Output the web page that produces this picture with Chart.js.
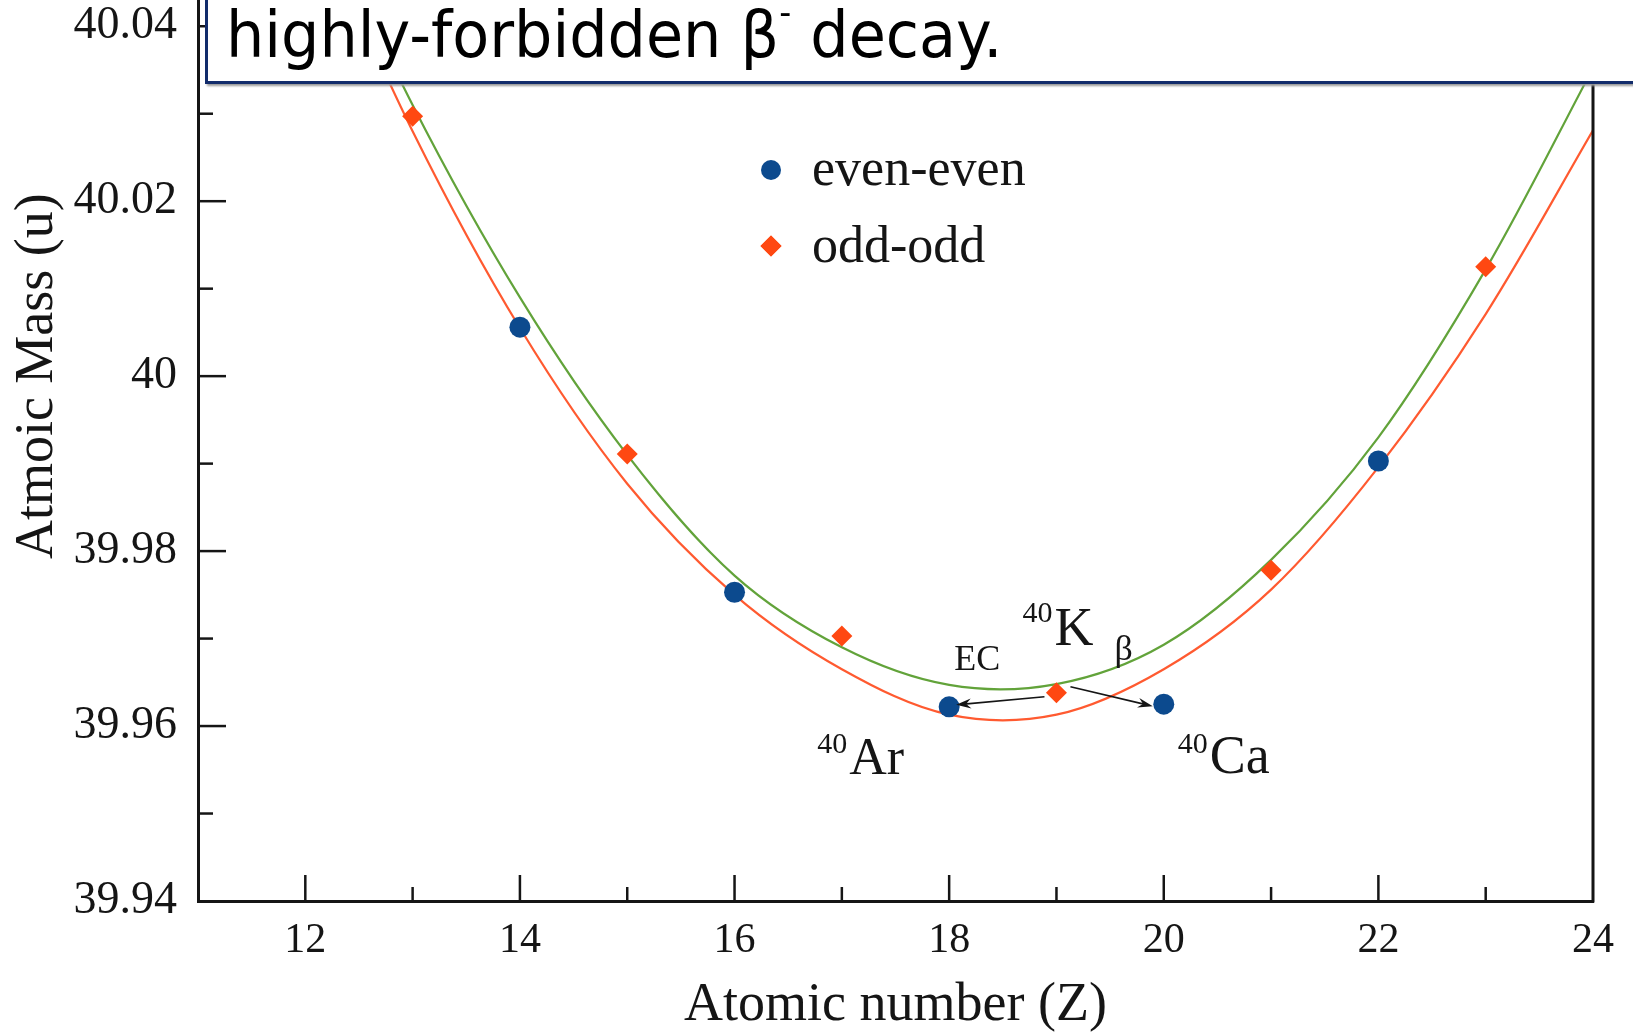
<!DOCTYPE html>
<html>
<head>
<meta charset="utf-8">
<script src="https://cdn.jsdelivr.net/npm/chart.js@4.4.1/dist/chart.umd.min.js"></script>
<style>
  body { margin: 0; background: #fff; }
  #wrap { position: relative; width: 1633px; height: 1033px; overflow: hidden; }
  #box { position: absolute; left: 205px; top: -10px; width: 1500px; height: 88px; background: #fff;
         border: 3px solid #122c6b; box-shadow: 2px 2px 2px #9a9a9a; }
  #note { position: absolute; left: 226px; top: 3px; font: 64px/64px "DejaVu Sans"; white-space: nowrap;
          transform-origin: 0 0; color: #000; }
  #note sup { font-size: 0.55em; position: relative; top: -0.95em; vertical-align: baseline; line-height: 0; }
</style>
</head>
<body>
<div id="wrap">
  <canvas id="chart-massa"></canvas>
  <div id="box"></div>
  <div id="note">highly-forbidden β<sup>-</sup> decay.</div>
</div>
<script>
// A = 40 isobars
const evenZ = [14, 16, 18, 20, 22];
const evenMass = [40.0056, 39.9753, 39.9622, 39.9625, 39.9903];
const oddZ = [13, 15, 17, 19, 21, 23];
const oddMass = [40.0297, 39.9911, 39.9703, 39.9638, 39.9778, 40.0125];

// the two mass parabolas (Z = 12 is under the text box)
const fitZ = [12, 13, 14, 15, 16, 17, 18, 19, 20, 21, 22, 23, 24];
const oddFit = [40.057, 40.031, 40.009, 39.991, 39.9772, 39.969, 39.9647, 39.9648, 39.9693, 39.979, 39.993, 40.0122, 40.0352];
const evenFit = [40.055, 40.028, 40.0055, 39.9877, 39.975, 39.9665, 39.9613, 39.9613, 39.9665, 39.9756, 39.9896, 40.0071, 40.0281];

const xTicks = [11, 12, 13, 14, 15, 16, 17, 18, 19, 20, 21, 22, 23, 24];
const yTicks = [39.94, 39.95, 39.96, 39.97, 39.98, 39.99, 40.00, 40.01, 40.02, 40.03, 40.04];

const pts = (xs, ys) => xs.map((v, i) => ({ x: v, y: ys[i] }));

const BLUE = '#0c4a8e';
const ORANGE = '#ff4812';
const INK = '#151515';
const SERIF = '"Liberation Serif", "Times New Roman", serif';

function arrow(ctx, x1, y1, x2, y2) {
    const ang = Math.atan2(y2 - y1, x2 - x1);
    ctx.beginPath();
    ctx.moveTo(x1, y1);
    ctx.lineTo(x2 - 8 * Math.cos(ang), y2 - 8 * Math.sin(ang));
    ctx.stroke();
    ctx.save();
    ctx.translate(x2, y2);
    ctx.rotate(ang);
    ctx.beginPath();
    ctx.moveTo(0, 0);
    ctx.lineTo(-15, -5);
    ctx.lineTo(-10, 0);
    ctx.lineTo(-15, 5);
    ctx.closePath();
    ctx.fill();
    ctx.restore();
}

function iso(ctx, sup, main, px, py, size, supSize, rise) {
    ctx.font = supSize + 'px ' + SERIF;
    ctx.fillText(sup, px, py - rise);
    const w = ctx.measureText(sup).width;
    ctx.font = size + 'px ' + SERIF;
    ctx.fillText(main, px + w + 2, py);
}

const decor = {
    id: 'decor',
    afterDraw(chart) {
        const { ctx, chartArea: a, scales: { x, y } } = chart;
        ctx.save();
        ctx.strokeStyle = INK;
        ctx.fillStyle = INK;

        // right frame
        ctx.lineWidth = 3;
        ctx.beginPath();
        ctx.moveTo(a.right, a.top);
        ctx.lineTo(a.right, a.bottom + 1.5);
        ctx.stroke();

        // inward tick marks
        ctx.lineWidth = 2.5;
        xTicks.forEach(v => {
            if (v <= 11 || v >= 24) return;
            const px = x.getPixelForValue(v);
            const len = v % 2 === 0 ? 26 : 14;
            ctx.beginPath();
            ctx.moveTo(px, a.bottom);
            ctx.lineTo(px, a.bottom - len);
            ctx.stroke();
        });
        yTicks.forEach((v, i) => {
            if (i === 0) return;
            const py = y.getPixelForValue(v);
            const len = i % 2 === 0 ? 28 : 15;
            ctx.beginPath();
            ctx.moveTo(a.left, py);
            ctx.lineTo(a.left + len, py);
            ctx.stroke();
        });

        // y axis title, centred on 40 u
        ctx.save();
        ctx.translate(38, y.getPixelForValue(40));
        ctx.rotate(-Math.PI / 2);
        ctx.font = '54px ' + SERIF;
        ctx.textAlign = 'center';
        ctx.textBaseline = 'middle';
        ctx.fillText('Atmoic Mass (u)', 0, 0);
        ctx.restore();

        // legend
        ctx.fillStyle = BLUE;
        ctx.beginPath();
        ctx.arc(771, 170, 10, 0, Math.PI * 2);
        ctx.fill();
        ctx.fillStyle = ORANGE;
        Chart.helpers.drawPoint(ctx, { pointStyle: 'rectRot', radius: 10.5, borderWidth: 0 }, 771, 246);
        ctx.fill();
        ctx.fillStyle = INK;
        ctx.font = '52px ' + SERIF;
        ctx.textAlign = 'left';
        ctx.textBaseline = 'alphabetic';
        ctx.fillText('even-even', 812, 185);
        ctx.fillText('odd-odd', 812, 262);

        // decay annotations, placed around the three isobars
        const ar = { x: x.getPixelForValue(18), y: y.getPixelForValue(evenMass[2]) };
        const k = { x: x.getPixelForValue(19), y: y.getPixelForValue(oddMass[3]) };
        const ca = { x: x.getPixelForValue(20), y: y.getPixelForValue(evenMass[3]) };

        ctx.lineWidth = 1.6;
        arrow(ctx, k.x - 12, k.y + 4, ar.x + 7, ar.y - 2);
        arrow(ctx, k.x + 14, k.y - 6, ca.x - 11, ca.y + 2);

        iso(ctx, '40', 'Ar', ar.x - 132, ar.y + 67, 52, 30, 21);
        iso(ctx, '40', 'K', k.x - 34, k.y - 48, 54, 30, 23);
        iso(ctx, '40', 'Ca', ca.x + 14, ca.y + 69, 54, 30, 20);
        ctx.font = '36px ' + SERIF;
        ctx.fillText('EC', ar.x + 5, ar.y - 37);
        ctx.fillText('β', k.x + 58, k.y - 33);
        ctx.restore();
    }
};

Chart.defaults.font.family = SERIF;
Chart.defaults.color = INK;

new Chart(document.getElementById('chart-massa'), {
    type: 'scatter',
    data: {
        datasets: [{
            label: 'even-even',
            data: pts(evenZ, evenMass),
            pointStyle: 'circle',
            pointRadius: 10.5,
            pointBorderWidth: 0,
            backgroundColor: BLUE,
            borderColor: BLUE
        }, {
            label: 'odd-odd',
            data: pts(oddZ, oddMass),
            pointStyle: 'rectRot',
            pointRadius: 10.5,
            pointBorderWidth: 0,
            backgroundColor: ORANGE,
            borderColor: ORANGE
        }, {
            label: 'odd-odd fit',
            data: pts(fitZ, oddFit),
            showLine: true,
            pointRadius: 0,
            borderColor: '#62a33a',
            borderWidth: 2.2,
            tension: 1 / 3
        }, {
            label: 'even-even fit',
            data: pts(fitZ, evenFit),
            showLine: true,
            pointRadius: 0,
            borderColor: '#ff5a30',
            borderWidth: 2.2,
            tension: 1 / 3
        }]
    },
    options: {
        responsive: true,
        maintainAspectRatio: false,
        animation: false,
        layout: { autoPadding: false, padding: { left: 0, right: 40, top: 0, bottom: 0 } },
        plugins: {
            legend: { display: false },
            tooltip: { enabled: false }
        },
        scales: {
            x: {
                type: 'linear',
                min: 11,
                max: 24,
                afterBuildTicks: s => { s.ticks = xTicks.map(v => ({ value: v })); },
                afterFit: s => { s.height = 132; s.paddingLeft = 0; s.paddingRight = 0; },
                grid: { display: false, drawTicks: false },
                border: { display: true, width: 3, color: INK },
                ticks: {
                    autoSkip: false,
                    maxRotation: 0,
                    padding: 15,
                    font: { size: 42 },
                    callback: v => (v % 2 === 0 ? String(v) : '')
                },
                title: {
                    display: true,
                    text: 'Atomic number (Z)',
                    font: { size: 54, lineHeight: 1 },
                    padding: 0
                }
            },
            y: {
                type: 'linear',
                min: 39.94,
                max: 40.043,
                afterBuildTicks: s => { s.ticks = yTicks.map(v => ({ value: v })); },
                afterFit: s => { s.width = 198; s.paddingTop = 0; s.paddingBottom = 0; },
                grid: { display: false, drawTicks: false },
                border: { display: true, width: 3, color: INK },
                ticks: {
                    autoSkip: false,
                    padding: 21,
                    font: { size: 46 },
                    callback: v => (Math.round(v * 100) % 2 === 0 ? String(+v.toFixed(2)) : '')
                }
            }
        }
    },
    plugins: [decor]
});

const note = document.getElementById('note');
note.style.transform = 'scaleX(' + (776 / note.offsetWidth) + ')';
</script>
</body>
</html>
